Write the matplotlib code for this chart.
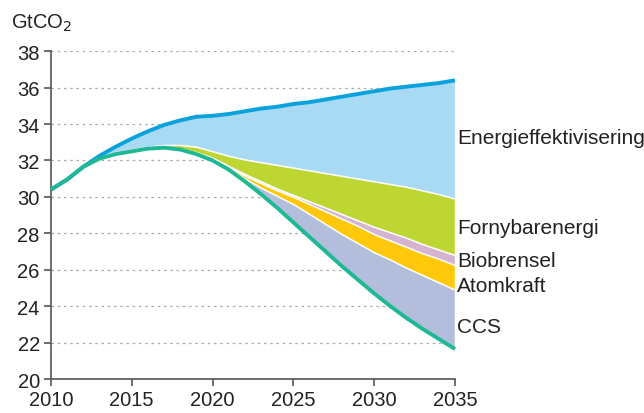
import matplotlib
matplotlib.use("Agg")
from matplotlib import pyplot as plt

plt.rcParams['font.family'] = ['Liberation Sans', 'DejaVu Sans']

years = list(range(2010, 2036))

# upper line: reference scenario emissions
reference = [30.4, 30.95, 31.65, 32.25, 32.75, 33.2, 33.6, 33.95, 34.2, 34.4,
             34.45, 34.55, 34.7, 34.85, 34.95, 35.1, 35.2, 35.35, 35.5, 35.65,
             35.8, 35.95, 36.05, 36.15, 36.25, 36.4]
# boundary below Energieffektivisering
after_eff = [30.4, 30.95, 31.65, 32.2, 32.45, 32.6, 32.75, 32.85, 32.85, 32.75,
             32.5, 32.25, 32.05, 31.9, 31.75, 31.6, 31.45, 31.3, 31.15, 31.0,
             30.85, 30.7, 30.55, 30.35, 30.15, 29.9]
# boundary below Fornybarenergi
after_renew = [30.4, 30.95, 31.65, 32.1, 32.35, 32.5, 32.65, 32.7, 32.65, 32.45,
               32.15, 31.7, 31.25, 30.85, 30.45, 30.1, 29.75, 29.4, 29.05, 28.7,
               28.35, 28.05, 27.75, 27.4, 27.1, 26.8]
# boundary below Biobrensel
after_bio = [30.4, 30.95, 31.65, 32.1, 32.35, 32.5, 32.65, 32.7, 32.62, 32.4,
             32.1, 31.65, 31.15, 30.75, 30.35, 30.0, 29.6, 29.2, 28.8, 28.4,
             27.95, 27.6, 27.25, 26.9, 26.6, 26.25]
# boundary below Atomkraft
after_nuc = [30.4, 30.95, 31.65, 32.1, 32.35, 32.5, 32.65, 32.7, 32.61, 32.38,
             32.05, 31.55, 31.0, 30.5, 30.05, 29.6, 29.05, 28.5, 27.95, 27.45,
             26.95, 26.55, 26.1, 25.7, 25.3, 24.9]
# lower line: climate scenario emissions
scenario = [30.4, 30.95, 31.65, 32.1, 32.35, 32.5, 32.65, 32.7, 32.6, 32.35,
            32.0, 31.5, 30.85, 30.15, 29.4, 28.6, 27.8, 27.0, 26.2, 25.45,
            24.7, 24.0, 23.35, 22.75, 22.2, 21.65]

labels = ["Energieffektivisering", "Fornybarenergi", "Biobrensel", "Atomkraft", "CCS"]
label_y = [32.95, 28.02, 26.23, 24.85, 22.57]   # text baselines
colors = ["#a9daf3", "#bdd631", "#d6b3d1", "#ffc80b", "#b3bedc"]

bounds = [reference, after_eff, after_renew, after_bio, after_nuc, scenario]

fig = plt.figure(figsize=(6.44, 4.14), dpi=100)
ax = fig.add_axes([0.079, 0.082, 0.6275, 0.792])

for i in range(5):
    ax.fill_between(years, bounds[i + 1], bounds[i], facecolor=colors[i],
                    edgecolor="white", linewidth=1.0, zorder=2)
    ax.text(2035.15, label_y[i], labels[i], fontsize=15, va="baseline",
            ha="left", color="#222222")

ax.plot(years, reference, color="#0aa2dd", linewidth=2.8, zorder=4,
        solid_capstyle="butt", clip_on=False)
ax.plot(years, scenario, color="#1fb894", linewidth=2.8, zorder=4,
        solid_capstyle="butt", clip_on=False)

ax.set_xlim(2010, 2035)
ax.set_ylim(20, 38)
ax.set_xticks(range(2010, 2036, 5))
ax.set_yticks(range(20, 39, 2))
ax.yaxis.grid(True, linestyle=(0, (2, 3)), color="#aaaaaa", linewidth=0.9, zorder=0)
ax.set_axisbelow(True)

for side in ["top", "right"]:
    ax.spines[side].set_visible(False)
for side in ["left", "bottom"]:
    ax.spines[side].set_color("#555555")
    ax.spines[side].set_linewidth(1.2)
ax.tick_params(direction="out", length=5, width=1.2, color="#555555",
               labelsize=14.5, labelcolor="#222222", pad=3)

fig.text(0.017, 0.9316, "GtCO$_2$", fontsize=14.5, color="#222222", va="baseline")

fig.savefig("out.png", dpi=100)
